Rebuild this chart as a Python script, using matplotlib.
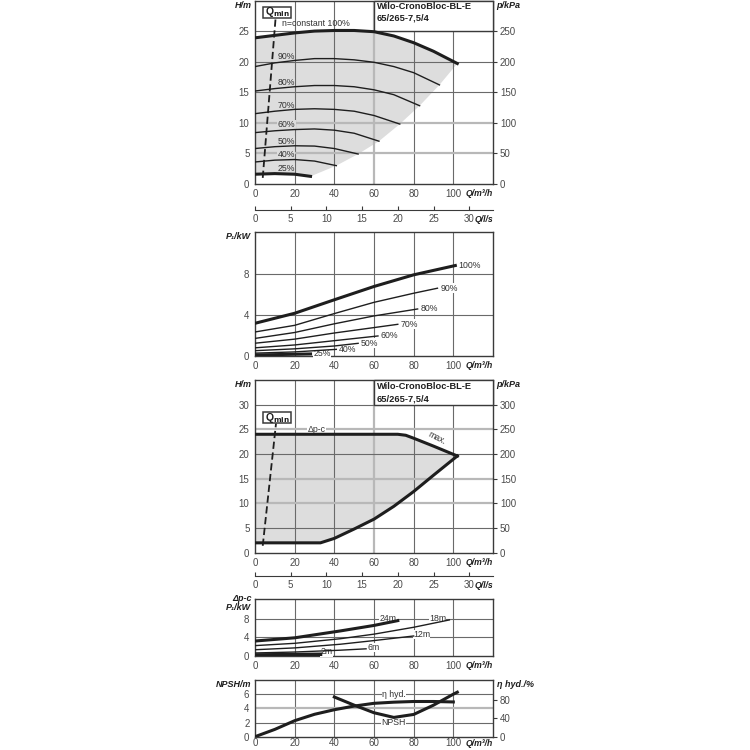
import numpy as np
import matplotlib.pyplot as plt
from matplotlib.patches import Rectangle

plt.rcParams['font.family'] = ['Liberation Sans', 'DejaVu Sans']
plt.rcParams['font.size'] = 7

# ---- panel 1: H/m over Q/m3/h, speed curves
q100 = [0, 10, 20, 30, 40, 50, 60, 70, 80, 90, 102]
h100 = [23.9, 24.3, 24.7, 25.0, 25.1, 25.1, 24.9, 24.2, 23.1, 21.7, 19.7]
q90 = [0, 10, 20, 30, 40, 50, 60, 70, 80, 93]
h90 = [19.2, 19.8, 20.2, 20.5, 20.5, 20.3, 19.9, 19.2, 18.2, 16.2]
q80 = [0, 10, 20, 30, 40, 50, 60, 70, 83]
h80 = [15.2, 15.6, 15.9, 16.1, 16.1, 15.9, 15.4, 14.6, 12.8]
q70 = [0, 10, 20, 30, 40, 50, 60, 73]
h70 = [11.5, 11.9, 12.2, 12.3, 12.2, 11.9, 11.2, 9.8]
q60 = [0, 10, 20, 30, 40, 50, 62.5]
h60 = [8.4, 8.7, 8.9, 9.0, 8.8, 8.3, 7.0]
q50 = [0, 10, 20, 30, 40, 52]
h50 = [5.8, 6.1, 6.25, 6.2, 5.8, 4.9]
q40 = [0, 10, 20, 30, 41]
h40 = [3.6, 3.9, 4.0, 3.75, 3.0]
q25 = [0, 10, 20, 28]
h25 = [1.6, 1.7, 1.6, 1.25]
# edge of the grey field (through the curve ends)
q_edge = [28, 41, 52, 62.5, 73, 83, 93, 102]
h_edge = [1.25, 3.0, 4.9, 7.0, 9.8, 12.8, 16.2, 19.7]
speed_labels = ['90%', '80%', '70%', '60%', '50%', '40%', '25%']
speed_label_h = [20.9, 16.6, 12.9, 9.7, 7.0, 4.8, 2.6]
qmin1_q = [3.9, 10.4]
qmin1_h = [1.0, 27.2]

# ---- panel 2: P1/kW
pq100 = [0, 20, 40, 60, 80, 101]
p100 = [3.2, 4.18, 5.5, 6.8, 7.94, 8.85]
pq90 = [0, 20, 40, 60, 80, 92]
p90 = [2.35, 3.0, 4.15, 5.25, 6.14, 6.63]
pq80 = [0, 20, 40, 60, 82]
p80 = [1.72, 2.3, 3.15, 3.92, 4.6]
pq70 = [0, 20, 40, 60, 72]
p70 = [1.25, 1.65, 2.25, 2.78, 3.1]
pq60 = [0, 20, 40, 62]
p60 = [0.8, 1.08, 1.5, 1.96]
pq50 = [0, 20, 40, 52]
p50 = [0.52, 0.7, 0.98, 1.24]
pq40 = [0, 20, 41]
p40 = [0.28, 0.4, 0.65]
pq25 = [0, 28]
p25 = [0.1, 0.2]

# ---- panel 3: delta p-c field
top_q = [0, 72, 76, 80, 90, 102]
top_h = [24, 24, 23.8, 23.2, 21.6, 19.6]
bot_q = [0, 33, 40, 50, 60, 70, 80, 90, 102]
bot_h = [2, 2, 2.9, 4.8, 6.8, 9.4, 12.4, 15.7, 19.6]
qmin3_q = [3.9, 10.6]
qmin3_h = [1.4, 26.2]

# ---- panel 4: P1 for delta p-c
dq24 = [0, 20, 43, 60, 72]
d24 = [3.2, 3.9, 5.4, 6.6, 7.65]
dq18 = [0, 20, 43, 60, 80, 98]
d18 = [2.2, 2.7, 3.7, 4.7, 6.2, 7.8]
dq12 = [0, 20, 43, 60, 80]
d12 = [1.3, 1.7, 2.5, 3.3, 4.3]
dq6 = [0, 20, 43, 56]
d6 = [0.6, 0.8, 1.2, 1.5]
dq2 = [0, 33]
d2 = [0.15, 0.3]

# ---- panel 5: NPSH and efficiency
npsh_q = [40, 50, 60, 70, 80, 90, 100, 102]
npsh = [5.6, 4.45, 3.38, 2.72, 3.14, 4.45, 6.0, 6.28]
eta_q = [0, 10, 20, 30, 40, 50, 60, 70, 80, 90, 100]
eta = [0, 16, 35, 49, 59, 67, 73, 75.5, 77, 77, 76]

dark = '#1e1e1e'
frame = '#3a3a3a'
grid_d = '#6a6a6a'
grid_l = '#b8b8b8'
shade = '#dddddd'
tickc = '#4a4a4a'
labc = '#333333'
lab_fs = 6.3          # labels inside the plots
qticks = [0, 20, 40, 60, 80, 100]

fig = plt.figure(figsize=(7.5, 7.5), dpi=100)


def px(y0, y1, x0=255, x1=493):
    # pixel box -> figure fraction
    return [x0 / 750, 1 - y1 / 750, (x1 - x0) / 750, (y1 - y0) / 750]


def setup(ax, ymax, yticks, hgrid, light_h=(), light_v=(), xpad=3.5):
    ax.set_xlim(0, 120)
    ax.set_ylim(0, ymax)
    ax.set_xticks(qticks)
    ax.set_yticks(yticks)
    ax.tick_params(axis='y', length=0, labelcolor=tickc, labelsize=7, pad=4)
    ax.tick_params(axis='x', length=0, labelcolor=tickc, labelsize=7, pad=xpad)
    for s in ax.spines.values():
        s.set_color(frame)
        s.set_linewidth(1.0)
    for q in qticks[1:]:
        if q in light_v:
            ax.axvline(q, color=grid_l, lw=1.6, zorder=0.6)
        else:
            ax.axvline(q, color=grid_d, lw=0.8, zorder=0.6)
    for h in hgrid:
        if h in light_h:
            ax.axhline(h, color=grid_l, lw=1.6, zorder=0.6)
        else:
            ax.axhline(h, color=grid_d, lw=0.8, zorder=0.6)
    ax.annotate('Q/m³/h', xy=(1, 0), xycoords='axes fraction', xytext=(0, -(xpad + 3.6)),
                textcoords='offset points', ha='right', va='center', fontsize=6.2,
                fontweight='bold', style='italic', color=dark)


def name(ax, txt, right=False, dy=0):
    if right:
        ax.annotate(txt, xy=(1.015, 1.0), xycoords='axes fraction', xytext=(0, dy),
                    textcoords='offset points', ha='left', va='top', fontsize=6.5,
                    fontweight='bold', style='italic', color=dark)
    else:
        ax.annotate(txt, xy=(-0.015, 1.0), xycoords='axes fraction', xytext=(0, dy),
                    textcoords='offset points', ha='right', va='top', fontsize=6.5,
                    fontweight='bold', style='italic', color=dark, linespacing=1.05)


def right_axis(ax, ymax, ticks):
    tw = ax.twinx()
    tw.set_ylim(0, ymax)
    tw.set_yticks(ticks)
    tw.tick_params(axis='y', direction='out', length=3, width=0.8, color=frame,
                   labelcolor=tickc, labelsize=7, pad=2)
    for s in tw.spines.values():
        s.set_visible(False)
    return tw


def ls_axis(y):
    a = fig.add_axes([255 / 750, 1 - y / 750, 238 / 750, 0.0001])
    a.set_xlim(0, 120 / 3.6)
    a.set_xticks([0, 5, 10, 15, 20, 25, 30])
    a.set_yticks([])
    for k in ['top', 'left', 'right']:
        a.spines[k].set_visible(False)
    a.spines['bottom'].set_color(frame)
    a.tick_params(axis='x', direction='in', length=3, width=0.8, color=frame,
                  labelcolor=tickc, labelsize=7, pad=3)
    a.patch.set_visible(False)
    a.annotate('Q/l/s', xy=(1, 0), xycoords='axes fraction', xytext=(0, -6.6),
               textcoords='offset points', ha='right', va='center', fontsize=6.2,
               fontweight='bold', style='italic', color=dark)


def title_box(ax, y0, y1, y2):
    ax.add_patch(Rectangle((60, y0), 60, 5, facecolor='white', edgecolor=frame,
                           lw=1.0, zorder=3, clip_on=False))
    ax.text(61.4, y1, 'Wilo-CronoBloc-BL-E', fontweight='bold', color=dark,
            va='center', zorder=4, fontsize=6.7)
    ax.text(61.4, y2, '65/265-7,5/4', fontweight='bold', color=dark,
            va='center', zorder=4, fontsize=6.7)


def qmin_box(ax, y0, hgt):
    ax.add_patch(Rectangle((4.2, y0), 13.8, hgt, facecolor='white', edgecolor=frame,
                           lw=1.1, zorder=5))
    ax.text(11.1, y0 + hgt / 2, r'Q$_{\mathbf{min}}$', ha='center', va='center',
            color=dark, zorder=6, fontsize=7.5, fontweight='bold')


# ================= panel 1
ax1 = fig.add_axes(px(0.5, 184))
setup(ax1, 30, [0, 5, 10, 15, 20, 25], [5, 10, 15, 20, 25], light_h=(5, 10), light_v=(60,))
fill_q = q100 + q_edge[::-1] + q25[::-1]
fill_h = h100 + h_edge[::-1] + h25[::-1]
ax1.fill(fill_q, fill_h, color=shade, lw=0, zorder=0.5)
ax1.plot(q100, h100, color=dark, lw=2.2, zorder=4)
for qq, hh in [(q90, h90), (q80, h80), (q70, h70), (q60, h60), (q50, h50), (q40, h40)]:
    ax1.plot(qq, hh, color=dark, lw=1.0, zorder=4)
ax1.plot(q25, h25, color=dark, lw=2.2, zorder=4)
for lab, hh in zip(speed_labels, speed_label_h):
    ax1.text(11.4, hh, lab, color=labc, va='center', ha='left', zorder=3, fontsize=lab_fs,
             bbox=dict(facecolor=shade, edgecolor='none', pad=0.3))
ax1.text(13.5, 26.2, 'n=constant 100%', color=labc, va='center', ha='left', zorder=3,
         fontsize=lab_fs)
ax1.plot(qmin1_q, qmin1_h, color=dark, lw=1.3, ls=(0, (4, 2)), zorder=5)
qmin_box(ax1, 27.2, 1.7)
title_box(ax1, 25, 29.0, 27.1)
name(ax1, 'H/m')
right_axis(ax1, 300, [0, 50, 100, 150, 200, 250])
name(ax1, 'p/kPa', right=True)
ls_axis(210)

# ================= panel 2
ax2 = fig.add_axes(px(232.3, 356))
setup(ax2, 12.1, [0, 4, 8], [4, 8])
p_sets = [(pq100, p100, '100%'), (pq90, p90, '90%'), (pq80, p80, '80%'),
          (pq70, p70, '70%'), (pq60, p60, '60%'), (pq50, p50, '50%'),
          (pq40, p40, '40%'), (pq25, p25, '25%')]
for qq, pp, lab in p_sets:
    lw = 2.2 if lab in ('100%', '25%') else 1.0
    ax2.plot(qq, pp, color=dark, lw=lw, zorder=4)
    ax2.text(qq[-1] + 1.5, pp[-1], lab, color=labc, va='center', ha='left', zorder=3,
             fontsize=lab_fs, bbox=dict(facecolor='white', edgecolor='none', pad=0.3))
name(ax2, 'P₁/kW')

# ================= panel 3
ax3 = fig.add_axes(px(380, 552.7))
setup(ax3, 35, [0, 5, 10, 15, 20, 25, 30], [5, 10, 15, 20, 25, 30],
      light_h=(10, 15, 25), light_v=(60,))
ax3.fill(top_q + bot_q[::-1], top_h + bot_h[::-1], color=shade, lw=0, zorder=0.5)
ax3.plot(top_q, top_h, color=dark, lw=2.2, zorder=4)
ax3.plot(bot_q, bot_h, color=dark, lw=2.2, zorder=4)
ax3.text(31, 25, 'Δp-c', color=labc, ha='center', va='center', zorder=3, fontsize=lab_fs,
         bbox=dict(facecolor='white', edgecolor='none', pad=0.3))
ax3.text(91.5, 23.3, 'max.', color=labc, ha='center', va='center', rotation=-27,
         fontsize=lab_fs, zorder=3)
ax3.plot(qmin3_q, qmin3_h, color=dark, lw=1.3, ls=(0, (4, 2)), zorder=5)
qmin_box(ax3, 26.2, 2.3)
title_box(ax3, 30, 33.7, 31.2)
name(ax3, 'H/m')
right_axis(ax3, 350, [0, 50, 100, 150, 200, 250, 300])
name(ax3, 'p/kPa', right=True)
ls_axis(576)

# ================= panel 4
ax4 = fig.add_axes(px(599.3, 655.7))
setup(ax4, 12.3, [0, 4, 8], [4, 8])
ax4.plot(dq24, d24, color=dark, lw=2.2, zorder=4)
ax4.plot(dq18, d18, color=dark, lw=1.0, zorder=4)
ax4.plot(dq12, d12, color=dark, lw=1.0, zorder=4)
ax4.plot(dq6, d6, color=dark, lw=1.0, zorder=4)
ax4.plot(dq2, d2, color=dark, lw=2.6, zorder=4)
for x, y, lab in [(67, 8.1, '24m'), (92, 8.1, '18m'), (84, 4.6, '12m'),
                  (60, 1.8, '6m'), (36, 0.85, '2m')]:
    ax4.text(x, y, lab, color=labc, ha='center', va='center', zorder=3, fontsize=lab_fs,
             bbox=dict(facecolor='white', edgecolor='none', pad=0.2))
name(ax4, 'Δp-c\nP₁/kW', dy=4)

# ================= panel 5
ax5 = fig.add_axes(px(680, 736.7))
setup(ax5, 8, [0, 2, 4, 6], [2, 4, 6], light_h=(4,), xpad=1.2)
ax5.plot(npsh_q, npsh, color=dark, lw=2.2, zorder=4)
tw5 = right_axis(ax5, 124, [0, 40, 80])
tw5.plot(eta_q, eta, color=dark, lw=2.2, zorder=4)
ax5.text(70, 6, 'η hyd.', color=labc, ha='center', va='center', zorder=3, fontsize=lab_fs,
         bbox=dict(facecolor='white', edgecolor='none', pad=0.3))
ax5.text(70, 2, 'NPSH', color=labc, ha='center', va='center', zorder=3, fontsize=lab_fs,
         bbox=dict(facecolor='white', edgecolor='none', pad=0.3))
name(ax5, 'NPSH/m')
name(ax5, 'η hyd./%', right=True)

fig.savefig('out.png', dpi=100)
